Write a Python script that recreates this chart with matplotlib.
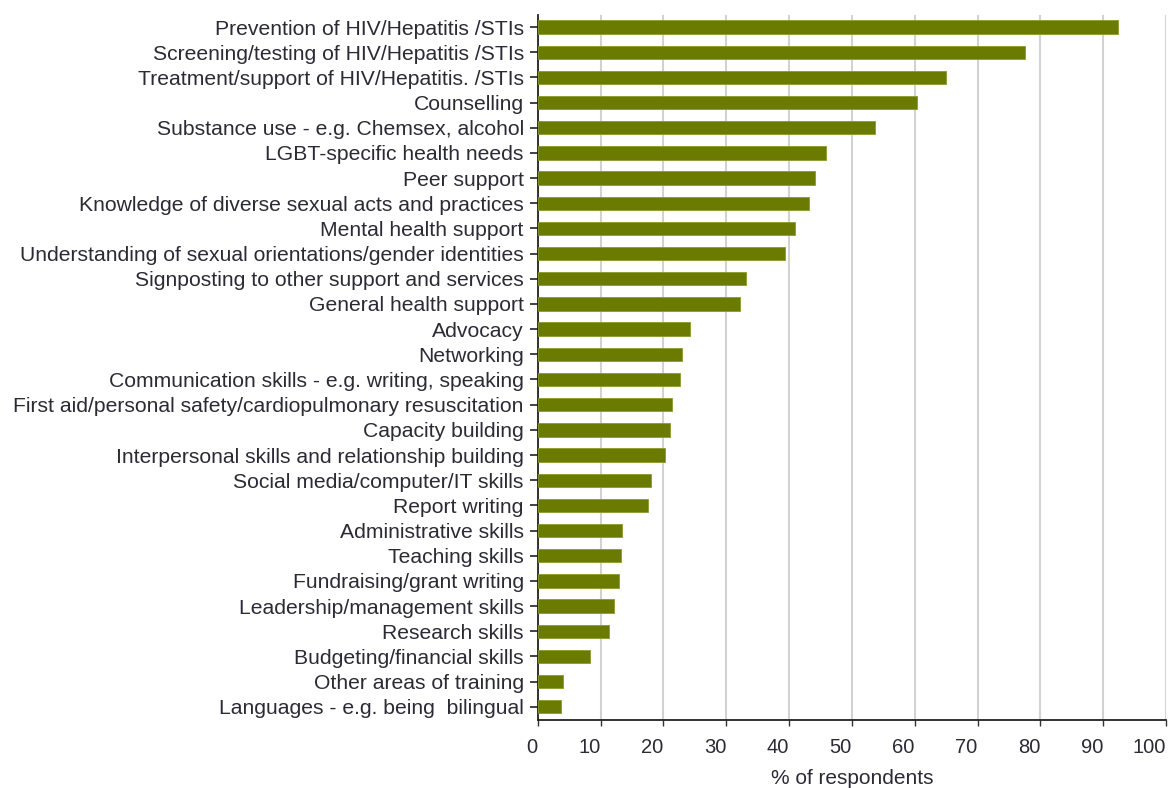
import matplotlib
matplotlib.use("Agg")
import matplotlib.pyplot as plt
import matplotlib.transforms as mtransforms

categories = [
    "Prevention of HIV/Hepatitis /STIs",
    "Screening/testing of HIV/Hepatitis /STIs",
    "Treatment/support of HIV/Hepatitis. /STIs",
    "Counselling",
    "Substance use - e.g. Chemsex, alcohol",
    "LGBT-specific health needs",
    "Peer support",
    "Knowledge of diverse sexual acts and practices",
    "Mental health support",
    "Understanding of sexual orientations/gender identities",
    "Signposting to other support and services",
    "General health support",
    "Advocacy",
    "Networking",
    "Communication skills - e.g. writing, speaking",
    "First aid/personal safety/cardiopulmonary resuscitation",
    "Capacity building",
    "Interpersonal skills and relationship building",
    "Social media/computer/IT skills",
    "Report writing",
    "Administrative skills",
    "Teaching skills",
    "Fundraising/grant writing",
    "Leadership/management skills",
    "Research skills",
    "Budgeting/financial skills",
    "Other areas of training",
    "Languages - e.g. being  bilingual",
]
values = [92.3, 77.5, 65.0, 60.4, 53.7, 45.8, 44.1, 43.1, 40.9, 39.3,
          33.2, 32.2, 24.3, 22.9, 22.6, 21.3, 21.0, 20.2, 18.0, 17.5,
          13.4, 13.2, 12.9, 12.1, 11.3, 8.3, 4.0, 3.65]
xticks = list(range(0, 101, 10))
xlabel = "% of respondents"

plt.rcParams['font.family'] = ['Liberation Sans', 'DejaVu Sans']
text_color = '#2b2b35'

fig = plt.figure(figsize=(11.69, 7.88), dpi=100)
ax = fig.add_axes([0.46, 0.0865, 0.5375, 0.8945])

ypos = list(range(len(categories)))
ax.barh(ypos, values, height=0.53, color='#6b7a00', edgecolor='#8a9a2a',
        linewidth=0.6, zorder=3)

ax.set_ylim(len(categories) - 0.48, -0.48)
ax.set_xlim(0, 100)
ax.set_yticks(ypos)
ax.set_yticklabels(categories, fontsize=15.2, color=text_color)
ax.set_xticks(xticks)
ax.set_xticklabels([str(t) for t in xticks], fontsize=14.5, color=text_color)
for lab in ax.get_xticklabels():
    lab.set_ha('right')
    lab.set_transform(lab.get_transform() + mtransforms.ScaledTranslation(2/100, 0, fig.dpi_scale_trans))

ax.set_xlabel(xlabel, fontsize=15, color=text_color, labelpad=9)

ax.grid(axis='x', color='#d2d2d2', linewidth=1.5, zorder=0)
ax.set_axisbelow(True)
for s in ['top', 'right']:
    ax.spines[s].set_visible(False)
ax.spines['left'].set_color('#222222')
ax.spines['left'].set_linewidth(1.3)
ax.spines['bottom'].set_color('#222222')
ax.spines['bottom'].set_linewidth(1.3)
ax.tick_params(axis='y', length=6, width=1.3, color='#333333', pad=4)
ax.tick_params(axis='x', length=4, width=1.0, color='#333333', pad=9)

fig.savefig("out.png", dpi=100)
